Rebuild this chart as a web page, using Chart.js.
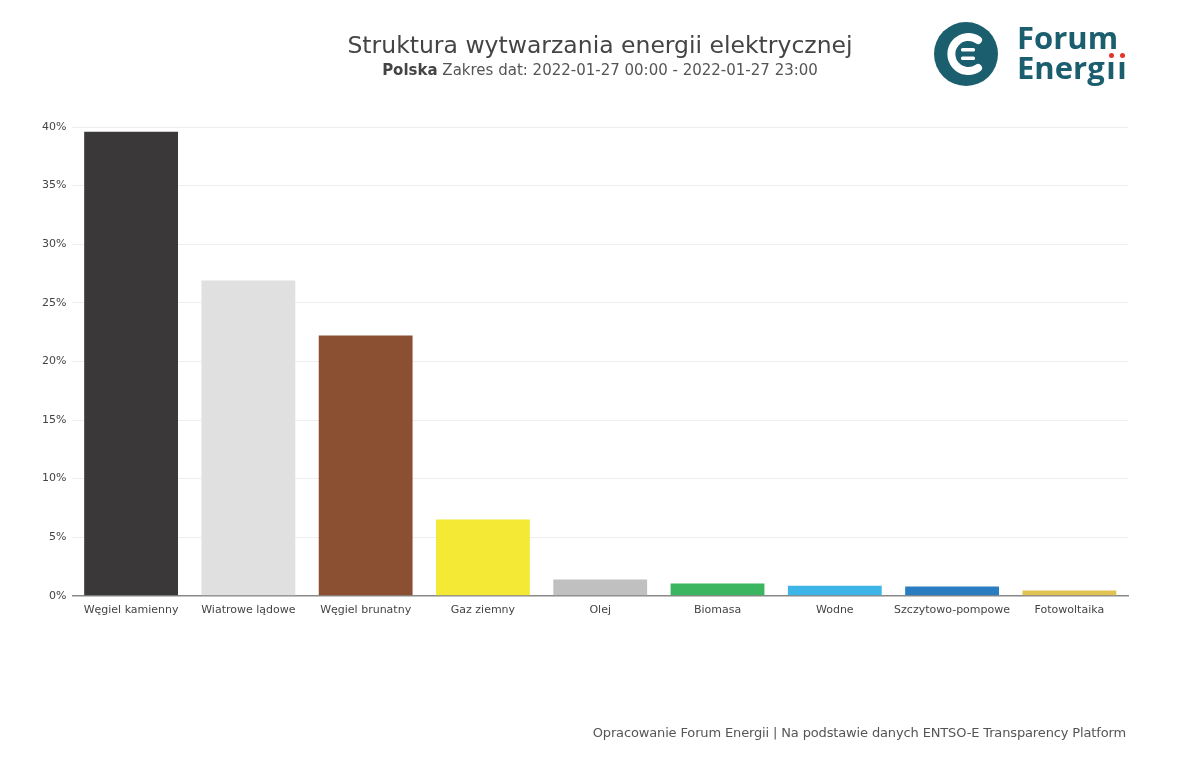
<!DOCTYPE html>
<html>
<head>
<meta charset="utf-8">
<script src="https://cdn.jsdelivr.net/npm/chart.js@4/dist/chart.umd.min.js"></script>
<style>
  html, body { margin: 0; padding: 0; background: #fff; }
  #wrap { position: relative; width: 1200px; height: 758px; overflow: hidden; font-family: "DejaVu Sans", Verdana, sans-serif; }
  #c { position: absolute; left: 0; top: 0; z-index: 0; }
  .txt { position: absolute; z-index: 2; }
  #title { left: 0; width: 1200px; top: 31px; text-align: center; font-size: 23.5px; color: #444; }
  #sub { left: 0; width: 1200px; top: 61px; text-align: center; font-size: 15px; color: #555; }
  #sub b { color: #444; }
  #foot { left: 400px; width: 726px; top: 725px; text-align: right; font-size: 13px; letter-spacing: -0.14px; color: #555; white-space: nowrap; }
  #logo { position: absolute; left: 934px; top: 22px; z-index: 2; }
  #logotext { left: 1017px; top: 22px; font-family: "Open Sans", "DejaVu Sans", sans-serif; font-weight: 700; font-size: 31px; line-height: 30px; color: #1b5f6e; }
  .ii { position: relative; padding-left: 1.5px; }
  .ii::after { content: ""; position: absolute; left: 50%; top: 7px; margin-left: -1.5px; width: 5px; height: 5px; border-radius: 50%; background: #e5322d; }
</style>
</head>
<body>
<div id="wrap">
  <canvas id="c" width="1200" height="758"></canvas>
  <div id="title" class="txt">Struktura wytwarzania energii elektrycznej</div>
  <div id="sub" class="txt"><b>Polska</b> Zakres dat: 2022-01-27 00:00 - 2022-01-27 23:00</div>
  <svg id="logo" width="64" height="64" viewBox="0 0 64 64">
    <circle cx="32" cy="32" r="32" fill="#1b5f6e"/>
    <path d="M44 18 A17 17 0 1 0 44 46" fill="none" stroke="#fff" stroke-width="8" stroke-linecap="round"/>
    <rect x="27" y="26" width="14" height="3.5" rx="1.5" fill="#fff"/>
    <rect x="27" y="34.5" width="14" height="3.5" rx="1.5" fill="#fff"/>
  </svg>
  <div id="logotext" class="txt">Forum<br>Energ<span class="ii">ı</span><span class="ii">ı</span></div>
  <div id="foot" class="txt">Opracowanie Forum Energii | Na podstawie danych ENTSO-E Transparency Platform</div>
</div>
<script>
const categories = ["Węgiel kamienny", "Wiatrowe lądowe", "Węgiel brunatny", "Gaz ziemny", "Olej", "Biomasa", "Wodne", "Szczytowo-pompowe", "Fotowoltaika"];
const shares = [39.6, 26.9, 22.2, 6.5, 1.4, 1.05, 0.85, 0.8, 0.45];
const barColors = ["#3a3838", "#e0e0e0", "#8b4f32", "#f4ea35", "#c0c0c0", "#3bb55f", "#3db5e6", "#2a7cc0", "#e1c352"];
const yTicks = [0, 5, 10, 15, 20, 25, 30, 35, 40];

new Chart(document.getElementById('c'), {
  type: 'bar',
  data: {
    labels: categories,
    datasets: [{ data: shares, backgroundColor: barColors, barPercentage: 0.8, categoryPercentage: 1.0 }]
  },
  options: {
    responsive: false,
    animation: false,
    layout: { padding: { left: 36, right: 72, top: 127, bottom: 141 } },
    plugins: { legend: { display: false }, tooltip: { enabled: false } },
    scales: {
      x: {
        grid: { display: false },
        border: { display: true, color: '#888', width: 1.5 },
        ticks: { color: '#444', font: { family: 'DejaVu Sans', size: 11 }, padding: 0, maxRotation: 0, autoSkip: false }
      },
      y: {
        min: 0, max: 40,
        afterBuildTicks: (s) => { s.ticks = yTicks.map(v => ({ value: v })); },
        grid: { color: '#eeeeee', drawTicks: false },
        border: { display: false },
        ticks: { color: '#444', font: { family: 'DejaVu Sans', size: 11 }, padding: 6, callback: v => v + '%' }
      }
    }
  }
});
</script>
</body>
</html>
